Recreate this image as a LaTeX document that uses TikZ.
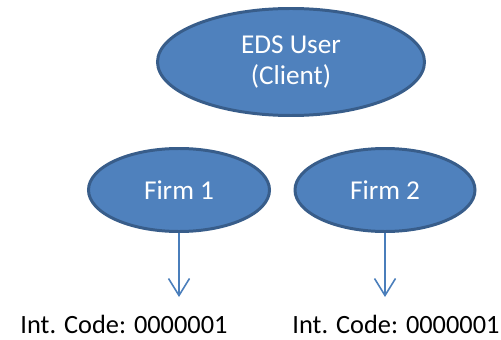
\documentclass[tikz,border=0pt]{standalone}
\usepackage{fontspec}
\setmainfont{Carlito}
\usetikzlibrary{shapes.geometric, arrows.meta}
\definecolor{officeblue}{HTML}{4F81BD}
\definecolor{officeedge}{HTML}{385D8A}
\definecolor{arrowblue}{HTML}{4A7EBB}

\begin{document}
\begin{tikzpicture}

      \tikzstyle{party}=[ellipse,fill=officeblue,draw=officeedge,line width=1.7pt,inner sep=0pt,text=white,font=\fontsize{15.5}{17.5}\selectfont,align=center]
      \tikzstyle{codearrow}=[draw=arrowblue,line width=0.9pt,-{Straight Barb[length=0.34cm,width=0.42cm]}]
      \tikzstyle{codelabel}=[anchor=base,inner sep=0pt,font=\fontsize{15}{17}\selectfont]

  \useasboundingbox (0,0) rectangle (10.02,6.78);

  \node[party,minimum width=5.34cm,minimum height=2.14cm] (client) at (5.82,5.54) {EDS User\\(Client)};
  \node[party,minimum width=3.62cm,minimum height=1.66cm] (firm1) at (3.58,2.98) {Firm 1};
  \node[party,minimum width=3.6cm,minimum height=1.66cm] (firm2) at (7.70,2.98) {Firm 2};

  \coordinate (tip1) at (3.58,0.84);
  \coordinate (tip2) at (7.70,0.84);

  \node[codelabel] (code1) at (2.48,0.12) {Int. Code: 0000001};
  \node[codelabel] (code2) at (7.92,0.12) {Int. Code: 0000001};

  \draw[codearrow] (firm1.south) -- (tip1);
  \draw[codearrow] (firm2.south) -- (tip2);

  %\draw[step=1cm,gray,very thin] (0,0) grid (10,7);

\end{tikzpicture}
\end{document}
